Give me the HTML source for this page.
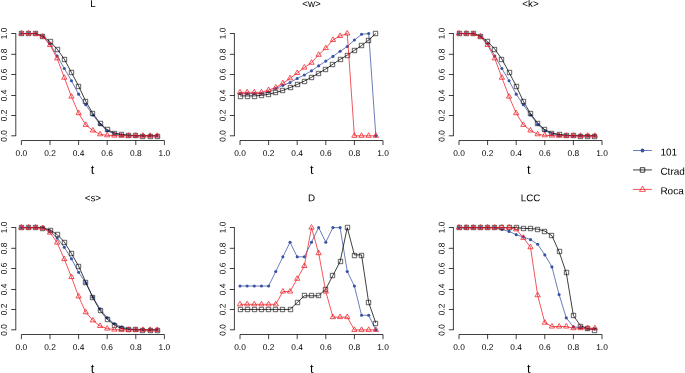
<!DOCTYPE html>
<html lang="en"><head><meta charset="utf-8"><title>Network measures vs threshold t</title>
<style>html,body{margin:0;padding:0;background:#fff}body{width:685px;height:373px;overflow:hidden}svg{display:block;will-change:transform;transform:translateZ(0)}text{font-family:"Liberation Sans",Arial,Helvetica,sans-serif;fill:#000}.tk{font-size:8.4px}.ti{font-size:9.8px}.xl{font-size:12.8px}.lg{font-size:10px}</style></head><body>
<svg width="685" height="373" viewBox="0 0 685 373">
<rect width="685" height="373" fill="#fff"/>
<g>
<text class="ti" transform="translate(92.9 7) rotate(0.05)" text-anchor="middle">L</text>
<path d="M15.8 136.1V33.2M15.8 135.8H11.2M15.8 115.5H11.2M15.8 95.5H11.2M15.8 74.5H11.2M15.8 54.3H11.2M15.8 33.5H11.2M21.4 140.5H164.4M21.4 140.5V145.1M50 140.5V145.1M78.6 140.5V145.1M107.2 140.5V145.1M135.8 140.5V145.1M164.4 140.5V145.1" fill="none" stroke="#000" stroke-width="0.75"/>
<text class="tk" transform="translate(21.4 155.9) rotate(0.05)" text-anchor="middle">0.0</text>
<text class="tk" transform="translate(6.85 135.8) rotate(-90.05)" text-anchor="middle">0.0</text>
<text class="tk" transform="translate(50 155.9) rotate(0.05)" text-anchor="middle">0.2</text>
<text class="tk" transform="translate(6.85 115.5) rotate(-90.05)" text-anchor="middle">0.2</text>
<text class="tk" transform="translate(78.6 155.9) rotate(0.05)" text-anchor="middle">0.4</text>
<text class="tk" transform="translate(6.85 95.5) rotate(-90.05)" text-anchor="middle">0.4</text>
<text class="tk" transform="translate(107.2 155.9) rotate(0.05)" text-anchor="middle">0.6</text>
<text class="tk" transform="translate(6.85 74.5) rotate(-90.05)" text-anchor="middle">0.6</text>
<text class="tk" transform="translate(135.8 155.9) rotate(0.05)" text-anchor="middle">0.8</text>
<text class="tk" transform="translate(6.85 54.3) rotate(-90.05)" text-anchor="middle">0.8</text>
<text class="tk" transform="translate(164.4 155.9) rotate(0.05)" text-anchor="middle">1.0</text>
<text class="tk" transform="translate(6.85 33.5) rotate(-90.05)" text-anchor="middle">1.0</text>
<text class="xl" transform="translate(92.55 174) rotate(0.05)" text-anchor="middle">t</text>
<polyline points="21.4,33.5 28.55,33.5 35.7,33.5 42.85,36.57 50,43.73 57.15,56.01 64.3,68.49 71.45,80.76 78.6,94.16 85.75,104.8 92.9,114.93 100.05,124.34 107.2,130.69 114.35,133.75 121.5,134.98 128.65,135.49 135.8,135.7 142.95,135.8 150.1,135.8 157.25,135.8" fill="none" stroke="#3953a4" stroke-width="0.75" stroke-linejoin="round"/>
<circle cx="21.4" cy="33.5" r="1.55" fill="#3953a4"/><circle cx="28.55" cy="33.5" r="1.55" fill="#3953a4"/><circle cx="35.7" cy="33.5" r="1.55" fill="#3953a4"/><circle cx="42.85" cy="36.57" r="1.55" fill="#3953a4"/><circle cx="50" cy="43.73" r="1.55" fill="#3953a4"/><circle cx="57.15" cy="56.01" r="1.55" fill="#3953a4"/><circle cx="64.3" cy="68.49" r="1.55" fill="#3953a4"/><circle cx="71.45" cy="80.76" r="1.55" fill="#3953a4"/><circle cx="78.6" cy="94.16" r="1.55" fill="#3953a4"/><circle cx="85.75" cy="104.8" r="1.55" fill="#3953a4"/><circle cx="92.9" cy="114.93" r="1.55" fill="#3953a4"/><circle cx="100.05" cy="124.34" r="1.55" fill="#3953a4"/><circle cx="107.2" cy="130.69" r="1.55" fill="#3953a4"/><circle cx="114.35" cy="133.75" r="1.55" fill="#3953a4"/><circle cx="121.5" cy="134.98" r="1.55" fill="#3953a4"/><circle cx="128.65" cy="135.49" r="1.55" fill="#3953a4"/><circle cx="135.8" cy="135.7" r="1.55" fill="#3953a4"/><circle cx="142.95" cy="135.8" r="1.55" fill="#3953a4"/><circle cx="150.1" cy="135.8" r="1.55" fill="#3953a4"/><circle cx="157.25" cy="135.8" r="1.55" fill="#3953a4"/>
<polyline points="21.4,33.5 28.55,33.5 35.7,33.5 42.85,36.16 50,41.58 57.15,49.05 64.3,59.18 71.45,72.48 78.6,85.98 85.75,101.32 92.9,113.6 100.05,123.22 107.2,129.66 114.35,132.94 121.5,134.47 128.65,135.19 135.8,135.6 142.95,135.8 150.1,135.8 157.25,135.8" fill="none" stroke="#000000" stroke-width="0.75" stroke-linejoin="round"/>
<rect x="19.3" y="31.3" width="4.4" height="4.4" fill="none" stroke="#000000" stroke-width="0.62" stroke-linejoin="round"/><rect x="26.3" y="31.3" width="4.4" height="4.4" fill="none" stroke="#000000" stroke-width="0.62" stroke-linejoin="round"/><rect x="33.3" y="31.3" width="4.4" height="4.4" fill="none" stroke="#000000" stroke-width="0.62" stroke-linejoin="round"/><rect x="40.3" y="34.3" width="4.4" height="4.4" fill="none" stroke="#000000" stroke-width="0.62" stroke-linejoin="round"/><rect x="48.3" y="39.3" width="4.4" height="4.4" fill="none" stroke="#000000" stroke-width="0.62" stroke-linejoin="round"/><rect x="55.3" y="47.3" width="4.4" height="4.4" fill="none" stroke="#000000" stroke-width="0.62" stroke-linejoin="round"/><rect x="62.3" y="57.3" width="4.4" height="4.4" fill="none" stroke="#000000" stroke-width="0.62" stroke-linejoin="round"/><rect x="69.3" y="70.3" width="4.4" height="4.4" fill="none" stroke="#000000" stroke-width="0.62" stroke-linejoin="round"/><rect x="76.3" y="84.3" width="4.4" height="4.4" fill="none" stroke="#000000" stroke-width="0.62" stroke-linejoin="round"/><rect x="83.3" y="99.3" width="4.4" height="4.4" fill="none" stroke="#000000" stroke-width="0.62" stroke-linejoin="round"/><rect x="90.3" y="111.3" width="4.4" height="4.4" fill="none" stroke="#000000" stroke-width="0.62" stroke-linejoin="round"/><rect x="98.3" y="121.3" width="4.4" height="4.4" fill="none" stroke="#000000" stroke-width="0.62" stroke-linejoin="round"/><rect x="105.3" y="127.3" width="4.4" height="4.4" fill="none" stroke="#000000" stroke-width="0.62" stroke-linejoin="round"/><rect x="112.3" y="131.3" width="4.4" height="4.4" fill="none" stroke="#000000" stroke-width="0.62" stroke-linejoin="round"/><rect x="119.3" y="132.3" width="4.4" height="4.4" fill="none" stroke="#000000" stroke-width="0.62" stroke-linejoin="round"/><rect x="126.3" y="133.3" width="4.4" height="4.4" fill="none" stroke="#000000" stroke-width="0.62" stroke-linejoin="round"/><rect x="133.3" y="133.3" width="4.4" height="4.4" fill="none" stroke="#000000" stroke-width="0.62" stroke-linejoin="round"/><rect x="140.3" y="134.3" width="4.4" height="4.4" fill="none" stroke="#000000" stroke-width="0.62" stroke-linejoin="round"/><rect x="148.3" y="134.3" width="4.4" height="4.4" fill="none" stroke="#000000" stroke-width="0.62" stroke-linejoin="round"/><rect x="155.3" y="134.3" width="4.4" height="4.4" fill="none" stroke="#000000" stroke-width="0.62" stroke-linejoin="round"/>
<polyline points="21.4,33.5 28.55,33.5 35.7,33.91 42.85,36.57 50,44.96 57.15,58.36 64.3,77.69 71.45,96.62 78.6,113.19 85.75,124.85 92.9,130.48 100.05,134.27 107.2,135.29 114.35,135.6 121.5,135.8 128.65,135.8 135.8,135.8 142.95,135.8 150.1,135.8 157.25,135.8" fill="none" stroke="#ed1c24" stroke-width="0.75" stroke-linejoin="round"/>
<path d="M21.4 30.45L24.04 35.03L18.76 35.03Z" fill="none" stroke="#ed1c24" stroke-width="0.75" stroke-linejoin="round"/><path d="M28.55 30.45L31.19 35.03L25.91 35.03Z" fill="none" stroke="#ed1c24" stroke-width="0.75" stroke-linejoin="round"/><path d="M35.7 30.86L38.34 35.43L33.06 35.43Z" fill="none" stroke="#ed1c24" stroke-width="0.75" stroke-linejoin="round"/><path d="M42.85 33.52L45.49 38.09L40.21 38.09Z" fill="none" stroke="#ed1c24" stroke-width="0.75" stroke-linejoin="round"/><path d="M50 41.91L52.64 46.48L47.36 46.48Z" fill="none" stroke="#ed1c24" stroke-width="0.75" stroke-linejoin="round"/><path d="M57.15 55.31L59.79 59.88L54.51 59.88Z" fill="none" stroke="#ed1c24" stroke-width="0.75" stroke-linejoin="round"/><path d="M64.3 74.64L66.94 79.22L61.66 79.22Z" fill="none" stroke="#ed1c24" stroke-width="0.75" stroke-linejoin="round"/><path d="M71.45 93.57L74.09 98.14L68.81 98.14Z" fill="none" stroke="#ed1c24" stroke-width="0.75" stroke-linejoin="round"/><path d="M78.6 110.14L81.24 114.72L75.96 114.72Z" fill="none" stroke="#ed1c24" stroke-width="0.75" stroke-linejoin="round"/><path d="M85.75 121.8L88.39 126.38L83.11 126.38Z" fill="none" stroke="#ed1c24" stroke-width="0.75" stroke-linejoin="round"/><path d="M92.9 127.43L95.54 132.01L90.26 132.01Z" fill="none" stroke="#ed1c24" stroke-width="0.75" stroke-linejoin="round"/><path d="M100.05 131.22L102.69 135.79L97.41 135.79Z" fill="none" stroke="#ed1c24" stroke-width="0.75" stroke-linejoin="round"/><path d="M107.2 132.24L109.84 136.81L104.56 136.81Z" fill="none" stroke="#ed1c24" stroke-width="0.75" stroke-linejoin="round"/><path d="M114.35 132.55L116.99 137.12L111.71 137.12Z" fill="none" stroke="#ed1c24" stroke-width="0.75" stroke-linejoin="round"/><path d="M121.5 132.75L124.14 137.33L118.86 137.33Z" fill="none" stroke="#ed1c24" stroke-width="0.75" stroke-linejoin="round"/><path d="M128.65 132.75L131.29 137.33L126.01 137.33Z" fill="none" stroke="#ed1c24" stroke-width="0.75" stroke-linejoin="round"/><path d="M135.8 132.75L138.44 137.33L133.16 137.33Z" fill="none" stroke="#ed1c24" stroke-width="0.75" stroke-linejoin="round"/><path d="M142.95 132.75L145.59 137.33L140.31 137.33Z" fill="none" stroke="#ed1c24" stroke-width="0.75" stroke-linejoin="round"/><path d="M150.1 132.75L152.74 137.33L147.46 137.33Z" fill="none" stroke="#ed1c24" stroke-width="0.75" stroke-linejoin="round"/><path d="M157.25 132.75L159.89 137.33L154.61 137.33Z" fill="none" stroke="#ed1c24" stroke-width="0.75" stroke-linejoin="round"/>
</g>
<g>
<text class="ti" transform="translate(311.5 7) rotate(0.05)" text-anchor="middle">&lt;w&gt;</text>
<path d="M234.4 136.1V33.2M234.4 135.8H229.8M234.4 115.5H229.8M234.4 95.5H229.8M234.4 74.5H229.8M234.4 54.3H229.8M234.4 33.5H229.8M240 140.5H383M240 140.5V145.1M268.6 140.5V145.1M297.2 140.5V145.1M325.8 140.5V145.1M354.4 140.5V145.1M383 140.5V145.1" fill="none" stroke="#000" stroke-width="0.75"/>
<text class="tk" transform="translate(240 155.9) rotate(0.05)" text-anchor="middle">0.0</text>
<text class="tk" transform="translate(225.45 135.8) rotate(-90.05)" text-anchor="middle">0.0</text>
<text class="tk" transform="translate(268.6 155.9) rotate(0.05)" text-anchor="middle">0.2</text>
<text class="tk" transform="translate(225.45 115.5) rotate(-90.05)" text-anchor="middle">0.2</text>
<text class="tk" transform="translate(297.2 155.9) rotate(0.05)" text-anchor="middle">0.4</text>
<text class="tk" transform="translate(225.45 95.5) rotate(-90.05)" text-anchor="middle">0.4</text>
<text class="tk" transform="translate(325.8 155.9) rotate(0.05)" text-anchor="middle">0.6</text>
<text class="tk" transform="translate(225.45 74.5) rotate(-90.05)" text-anchor="middle">0.6</text>
<text class="tk" transform="translate(354.4 155.9) rotate(0.05)" text-anchor="middle">0.8</text>
<text class="tk" transform="translate(225.45 54.3) rotate(-90.05)" text-anchor="middle">0.8</text>
<text class="tk" transform="translate(383 155.9) rotate(0.05)" text-anchor="middle">1.0</text>
<text class="tk" transform="translate(225.45 33.5) rotate(-90.05)" text-anchor="middle">1.0</text>
<text class="xl" transform="translate(311.7 174) rotate(0.05)" text-anchor="middle">t</text>
<polyline points="240,93.55 247.15,93.55 254.3,93.55 261.45,93.55 268.6,92.02 275.75,88.54 282.9,85.37 290.05,82.5 297.2,78.51 304.35,74.93 311.5,70.84 318.65,65.83 325.8,61.12 332.95,56.42 340.1,51.3 347.25,46.49 354.4,40.05 361.55,34.32 368.7,33.5 375.85,135.8" fill="none" stroke="#3953a4" stroke-width="0.75" stroke-linejoin="round"/>
<circle cx="240" cy="93.55" r="1.55" fill="#3953a4"/><circle cx="247.15" cy="93.55" r="1.55" fill="#3953a4"/><circle cx="254.3" cy="93.55" r="1.55" fill="#3953a4"/><circle cx="261.45" cy="93.55" r="1.55" fill="#3953a4"/><circle cx="268.6" cy="92.02" r="1.55" fill="#3953a4"/><circle cx="275.75" cy="88.54" r="1.55" fill="#3953a4"/><circle cx="282.9" cy="85.37" r="1.55" fill="#3953a4"/><circle cx="290.05" cy="82.5" r="1.55" fill="#3953a4"/><circle cx="297.2" cy="78.51" r="1.55" fill="#3953a4"/><circle cx="304.35" cy="74.93" r="1.55" fill="#3953a4"/><circle cx="311.5" cy="70.84" r="1.55" fill="#3953a4"/><circle cx="318.65" cy="65.83" r="1.55" fill="#3953a4"/><circle cx="325.8" cy="61.12" r="1.55" fill="#3953a4"/><circle cx="332.95" cy="56.42" r="1.55" fill="#3953a4"/><circle cx="340.1" cy="51.3" r="1.55" fill="#3953a4"/><circle cx="347.25" cy="46.49" r="1.55" fill="#3953a4"/><circle cx="354.4" cy="40.05" r="1.55" fill="#3953a4"/><circle cx="361.55" cy="34.32" r="1.55" fill="#3953a4"/><circle cx="368.7" cy="33.5" r="1.55" fill="#3953a4"/><circle cx="375.85" cy="135.8" r="1.55" fill="#3953a4"/>
<polyline points="240,95.9 247.15,95.9 254.3,95.9 261.45,95.39 268.6,94.27 275.75,92.53 282.9,90.38 290.05,87.62 297.2,84.55 304.35,81.07 311.5,77.28 318.65,73.19 325.8,69 332.95,64.19 340.1,59.38 347.25,55.19 354.4,50.38 361.55,45.57 368.7,39.94 375.85,33.5" fill="none" stroke="#000000" stroke-width="0.75" stroke-linejoin="round"/>
<rect x="238.3" y="94.3" width="4.4" height="4.4" fill="none" stroke="#000000" stroke-width="0.62" stroke-linejoin="round"/><rect x="245.3" y="94.3" width="4.4" height="4.4" fill="none" stroke="#000000" stroke-width="0.62" stroke-linejoin="round"/><rect x="252.3" y="94.3" width="4.4" height="4.4" fill="none" stroke="#000000" stroke-width="0.62" stroke-linejoin="round"/><rect x="259.3" y="93.3" width="4.4" height="4.4" fill="none" stroke="#000000" stroke-width="0.62" stroke-linejoin="round"/><rect x="266.3" y="92.3" width="4.4" height="4.4" fill="none" stroke="#000000" stroke-width="0.62" stroke-linejoin="round"/><rect x="273.3" y="90.3" width="4.4" height="4.4" fill="none" stroke="#000000" stroke-width="0.62" stroke-linejoin="round"/><rect x="280.3" y="88.3" width="4.4" height="4.4" fill="none" stroke="#000000" stroke-width="0.62" stroke-linejoin="round"/><rect x="288.3" y="85.3" width="4.4" height="4.4" fill="none" stroke="#000000" stroke-width="0.62" stroke-linejoin="round"/><rect x="295.3" y="82.3" width="4.4" height="4.4" fill="none" stroke="#000000" stroke-width="0.62" stroke-linejoin="round"/><rect x="302.3" y="79.3" width="4.4" height="4.4" fill="none" stroke="#000000" stroke-width="0.62" stroke-linejoin="round"/><rect x="309.3" y="75.3" width="4.4" height="4.4" fill="none" stroke="#000000" stroke-width="0.62" stroke-linejoin="round"/><rect x="316.3" y="71.3" width="4.4" height="4.4" fill="none" stroke="#000000" stroke-width="0.62" stroke-linejoin="round"/><rect x="323.3" y="67.3" width="4.4" height="4.4" fill="none" stroke="#000000" stroke-width="0.62" stroke-linejoin="round"/><rect x="330.3" y="62.3" width="4.4" height="4.4" fill="none" stroke="#000000" stroke-width="0.62" stroke-linejoin="round"/><rect x="338.3" y="57.3" width="4.4" height="4.4" fill="none" stroke="#000000" stroke-width="0.62" stroke-linejoin="round"/><rect x="345.3" y="53.3" width="4.4" height="4.4" fill="none" stroke="#000000" stroke-width="0.62" stroke-linejoin="round"/><rect x="352.3" y="48.3" width="4.4" height="4.4" fill="none" stroke="#000000" stroke-width="0.62" stroke-linejoin="round"/><rect x="359.3" y="43.3" width="4.4" height="4.4" fill="none" stroke="#000000" stroke-width="0.62" stroke-linejoin="round"/><rect x="366.3" y="38.3" width="4.4" height="4.4" fill="none" stroke="#000000" stroke-width="0.62" stroke-linejoin="round"/><rect x="373.3" y="31.3" width="4.4" height="4.4" fill="none" stroke="#000000" stroke-width="0.62" stroke-linejoin="round"/>
<polyline points="240,92.32 247.15,92.32 254.3,92.32 261.45,92.32 268.6,90.07 275.75,87.51 282.9,83.22 290.05,78.31 297.2,72.99 304.35,67.57 311.5,62.76 318.65,54.78 325.8,48.13 332.95,39.94 340.1,35.96 347.25,33.5 354.4,135.8 361.55,135.8 368.7,135.8 375.85,135.8" fill="none" stroke="#ed1c24" stroke-width="0.75" stroke-linejoin="round"/>
<path d="M240 89.27L242.64 93.85L237.36 93.85Z" fill="none" stroke="#ed1c24" stroke-width="0.75" stroke-linejoin="round"/><path d="M247.15 89.27L249.79 93.85L244.51 93.85Z" fill="none" stroke="#ed1c24" stroke-width="0.75" stroke-linejoin="round"/><path d="M254.3 89.27L256.94 93.85L251.66 93.85Z" fill="none" stroke="#ed1c24" stroke-width="0.75" stroke-linejoin="round"/><path d="M261.45 89.27L264.09 93.85L258.81 93.85Z" fill="none" stroke="#ed1c24" stroke-width="0.75" stroke-linejoin="round"/><path d="M268.6 87.02L271.24 91.6L265.96 91.6Z" fill="none" stroke="#ed1c24" stroke-width="0.75" stroke-linejoin="round"/><path d="M275.75 84.46L278.39 89.04L273.11 89.04Z" fill="none" stroke="#ed1c24" stroke-width="0.75" stroke-linejoin="round"/><path d="M282.9 80.17L285.54 84.74L280.26 84.74Z" fill="none" stroke="#ed1c24" stroke-width="0.75" stroke-linejoin="round"/><path d="M290.05 75.26L292.69 79.83L287.41 79.83Z" fill="none" stroke="#ed1c24" stroke-width="0.75" stroke-linejoin="round"/><path d="M297.2 69.94L299.84 74.51L294.56 74.51Z" fill="none" stroke="#ed1c24" stroke-width="0.75" stroke-linejoin="round"/><path d="M304.35 64.52L306.99 69.09L301.71 69.09Z" fill="none" stroke="#ed1c24" stroke-width="0.75" stroke-linejoin="round"/><path d="M311.5 59.71L314.14 64.28L308.86 64.28Z" fill="none" stroke="#ed1c24" stroke-width="0.75" stroke-linejoin="round"/><path d="M318.65 51.73L321.29 56.3L316.01 56.3Z" fill="none" stroke="#ed1c24" stroke-width="0.75" stroke-linejoin="round"/><path d="M325.8 45.08L328.44 49.65L323.16 49.65Z" fill="none" stroke="#ed1c24" stroke-width="0.75" stroke-linejoin="round"/><path d="M332.95 36.89L335.59 41.47L330.31 41.47Z" fill="none" stroke="#ed1c24" stroke-width="0.75" stroke-linejoin="round"/><path d="M340.1 32.91L342.74 37.48L337.46 37.48Z" fill="none" stroke="#ed1c24" stroke-width="0.75" stroke-linejoin="round"/><path d="M347.25 30.45L349.89 35.03L344.61 35.03Z" fill="none" stroke="#ed1c24" stroke-width="0.75" stroke-linejoin="round"/><path d="M354.4 132.75L357.04 137.33L351.76 137.33Z" fill="none" stroke="#ed1c24" stroke-width="0.75" stroke-linejoin="round"/><path d="M361.55 132.75L364.19 137.33L358.91 137.33Z" fill="none" stroke="#ed1c24" stroke-width="0.75" stroke-linejoin="round"/><path d="M368.7 132.75L371.34 137.33L366.06 137.33Z" fill="none" stroke="#ed1c24" stroke-width="0.75" stroke-linejoin="round"/><path d="M375.85 132.75L378.49 137.33L373.21 137.33Z" fill="none" stroke="#ed1c24" stroke-width="0.75" stroke-linejoin="round"/>
</g>
<g>
<text class="ti" transform="translate(530.5 7) rotate(0.05)" text-anchor="middle">&lt;k&gt;</text>
<path d="M453.4 136.1V33.2M453.4 135.8H448.8M453.4 115.5H448.8M453.4 95.5H448.8M453.4 74.5H448.8M453.4 54.3H448.8M453.4 33.5H448.8M459 140.5H602M459 140.5V145.1M487.6 140.5V145.1M516.2 140.5V145.1M544.8 140.5V145.1M573.4 140.5V145.1M602 140.5V145.1" fill="none" stroke="#000" stroke-width="0.75"/>
<text class="tk" transform="translate(459 155.9) rotate(0.05)" text-anchor="middle">0.0</text>
<text class="tk" transform="translate(444.45 135.8) rotate(-90.05)" text-anchor="middle">0.0</text>
<text class="tk" transform="translate(487.6 155.9) rotate(0.05)" text-anchor="middle">0.2</text>
<text class="tk" transform="translate(444.45 115.5) rotate(-90.05)" text-anchor="middle">0.2</text>
<text class="tk" transform="translate(516.2 155.9) rotate(0.05)" text-anchor="middle">0.4</text>
<text class="tk" transform="translate(444.45 95.5) rotate(-90.05)" text-anchor="middle">0.4</text>
<text class="tk" transform="translate(544.8 155.9) rotate(0.05)" text-anchor="middle">0.6</text>
<text class="tk" transform="translate(444.45 74.5) rotate(-90.05)" text-anchor="middle">0.6</text>
<text class="tk" transform="translate(573.4 155.9) rotate(0.05)" text-anchor="middle">0.8</text>
<text class="tk" transform="translate(444.45 54.3) rotate(-90.05)" text-anchor="middle">0.8</text>
<text class="tk" transform="translate(602 155.9) rotate(0.05)" text-anchor="middle">1.0</text>
<text class="tk" transform="translate(444.45 33.5) rotate(-90.05)" text-anchor="middle">1.0</text>
<text class="xl" transform="translate(528.75 174) rotate(0.05)" text-anchor="middle">t</text>
<polyline points="459,33.5 466.15,33.5 473.3,33.5 480.45,36.57 487.6,43.73 494.75,56.01 501.9,68.49 509.05,80.76 516.2,94.16 523.35,104.8 530.5,114.93 537.65,124.34 544.8,130.69 551.95,133.75 559.1,134.98 566.25,135.49 573.4,135.7 580.55,135.8 587.7,135.8 594.85,135.8" fill="none" stroke="#3953a4" stroke-width="0.75" stroke-linejoin="round"/>
<circle cx="459" cy="33.5" r="1.55" fill="#3953a4"/><circle cx="466.15" cy="33.5" r="1.55" fill="#3953a4"/><circle cx="473.3" cy="33.5" r="1.55" fill="#3953a4"/><circle cx="480.45" cy="36.57" r="1.55" fill="#3953a4"/><circle cx="487.6" cy="43.73" r="1.55" fill="#3953a4"/><circle cx="494.75" cy="56.01" r="1.55" fill="#3953a4"/><circle cx="501.9" cy="68.49" r="1.55" fill="#3953a4"/><circle cx="509.05" cy="80.76" r="1.55" fill="#3953a4"/><circle cx="516.2" cy="94.16" r="1.55" fill="#3953a4"/><circle cx="523.35" cy="104.8" r="1.55" fill="#3953a4"/><circle cx="530.5" cy="114.93" r="1.55" fill="#3953a4"/><circle cx="537.65" cy="124.34" r="1.55" fill="#3953a4"/><circle cx="544.8" cy="130.69" r="1.55" fill="#3953a4"/><circle cx="551.95" cy="133.75" r="1.55" fill="#3953a4"/><circle cx="559.1" cy="134.98" r="1.55" fill="#3953a4"/><circle cx="566.25" cy="135.49" r="1.55" fill="#3953a4"/><circle cx="573.4" cy="135.7" r="1.55" fill="#3953a4"/><circle cx="580.55" cy="135.8" r="1.55" fill="#3953a4"/><circle cx="587.7" cy="135.8" r="1.55" fill="#3953a4"/><circle cx="594.85" cy="135.8" r="1.55" fill="#3953a4"/>
<polyline points="459,33.5 466.15,33.5 473.3,33.5 480.45,36.16 487.6,41.58 494.75,49.05 501.9,59.18 509.05,72.48 516.2,85.98 523.35,101.32 530.5,113.6 537.65,123.22 544.8,129.66 551.95,132.94 559.1,134.47 566.25,135.19 573.4,135.6 580.55,135.8 587.7,135.8 594.85,135.8" fill="none" stroke="#000000" stroke-width="0.75" stroke-linejoin="round"/>
<rect x="457.3" y="31.3" width="4.4" height="4.4" fill="none" stroke="#000000" stroke-width="0.62" stroke-linejoin="round"/><rect x="464.3" y="31.3" width="4.4" height="4.4" fill="none" stroke="#000000" stroke-width="0.62" stroke-linejoin="round"/><rect x="471.3" y="31.3" width="4.4" height="4.4" fill="none" stroke="#000000" stroke-width="0.62" stroke-linejoin="round"/><rect x="478.3" y="34.3" width="4.4" height="4.4" fill="none" stroke="#000000" stroke-width="0.62" stroke-linejoin="round"/><rect x="485.3" y="39.3" width="4.4" height="4.4" fill="none" stroke="#000000" stroke-width="0.62" stroke-linejoin="round"/><rect x="492.3" y="47.3" width="4.4" height="4.4" fill="none" stroke="#000000" stroke-width="0.62" stroke-linejoin="round"/><rect x="499.3" y="57.3" width="4.4" height="4.4" fill="none" stroke="#000000" stroke-width="0.62" stroke-linejoin="round"/><rect x="507.3" y="70.3" width="4.4" height="4.4" fill="none" stroke="#000000" stroke-width="0.62" stroke-linejoin="round"/><rect x="514.3" y="84.3" width="4.4" height="4.4" fill="none" stroke="#000000" stroke-width="0.62" stroke-linejoin="round"/><rect x="521.3" y="99.3" width="4.4" height="4.4" fill="none" stroke="#000000" stroke-width="0.62" stroke-linejoin="round"/><rect x="528.3" y="111.3" width="4.4" height="4.4" fill="none" stroke="#000000" stroke-width="0.62" stroke-linejoin="round"/><rect x="535.3" y="121.3" width="4.4" height="4.4" fill="none" stroke="#000000" stroke-width="0.62" stroke-linejoin="round"/><rect x="542.3" y="127.3" width="4.4" height="4.4" fill="none" stroke="#000000" stroke-width="0.62" stroke-linejoin="round"/><rect x="549.3" y="131.3" width="4.4" height="4.4" fill="none" stroke="#000000" stroke-width="0.62" stroke-linejoin="round"/><rect x="557.3" y="132.3" width="4.4" height="4.4" fill="none" stroke="#000000" stroke-width="0.62" stroke-linejoin="round"/><rect x="564.3" y="133.3" width="4.4" height="4.4" fill="none" stroke="#000000" stroke-width="0.62" stroke-linejoin="round"/><rect x="571.3" y="133.3" width="4.4" height="4.4" fill="none" stroke="#000000" stroke-width="0.62" stroke-linejoin="round"/><rect x="578.3" y="134.3" width="4.4" height="4.4" fill="none" stroke="#000000" stroke-width="0.62" stroke-linejoin="round"/><rect x="585.3" y="134.3" width="4.4" height="4.4" fill="none" stroke="#000000" stroke-width="0.62" stroke-linejoin="round"/><rect x="592.3" y="134.3" width="4.4" height="4.4" fill="none" stroke="#000000" stroke-width="0.62" stroke-linejoin="round"/>
<polyline points="459,33.5 466.15,33.5 473.3,33.91 480.45,36.57 487.6,44.96 494.75,58.36 501.9,77.69 509.05,96.62 516.2,113.19 523.35,124.85 530.5,130.48 537.65,134.27 544.8,135.29 551.95,135.6 559.1,135.8 566.25,135.8 573.4,135.8 580.55,135.8 587.7,135.8 594.85,135.8" fill="none" stroke="#ed1c24" stroke-width="0.75" stroke-linejoin="round"/>
<path d="M459 30.45L461.64 35.03L456.36 35.03Z" fill="none" stroke="#ed1c24" stroke-width="0.75" stroke-linejoin="round"/><path d="M466.15 30.45L468.79 35.03L463.51 35.03Z" fill="none" stroke="#ed1c24" stroke-width="0.75" stroke-linejoin="round"/><path d="M473.3 30.86L475.94 35.43L470.66 35.43Z" fill="none" stroke="#ed1c24" stroke-width="0.75" stroke-linejoin="round"/><path d="M480.45 33.52L483.09 38.09L477.81 38.09Z" fill="none" stroke="#ed1c24" stroke-width="0.75" stroke-linejoin="round"/><path d="M487.6 41.91L490.24 46.48L484.96 46.48Z" fill="none" stroke="#ed1c24" stroke-width="0.75" stroke-linejoin="round"/><path d="M494.75 55.31L497.39 59.88L492.11 59.88Z" fill="none" stroke="#ed1c24" stroke-width="0.75" stroke-linejoin="round"/><path d="M501.9 74.64L504.54 79.22L499.26 79.22Z" fill="none" stroke="#ed1c24" stroke-width="0.75" stroke-linejoin="round"/><path d="M509.05 93.57L511.69 98.14L506.41 98.14Z" fill="none" stroke="#ed1c24" stroke-width="0.75" stroke-linejoin="round"/><path d="M516.2 110.14L518.84 114.72L513.56 114.72Z" fill="none" stroke="#ed1c24" stroke-width="0.75" stroke-linejoin="round"/><path d="M523.35 121.8L525.99 126.38L520.71 126.38Z" fill="none" stroke="#ed1c24" stroke-width="0.75" stroke-linejoin="round"/><path d="M530.5 127.43L533.14 132.01L527.86 132.01Z" fill="none" stroke="#ed1c24" stroke-width="0.75" stroke-linejoin="round"/><path d="M537.65 131.22L540.29 135.79L535.01 135.79Z" fill="none" stroke="#ed1c24" stroke-width="0.75" stroke-linejoin="round"/><path d="M544.8 132.24L547.44 136.81L542.16 136.81Z" fill="none" stroke="#ed1c24" stroke-width="0.75" stroke-linejoin="round"/><path d="M551.95 132.55L554.59 137.12L549.31 137.12Z" fill="none" stroke="#ed1c24" stroke-width="0.75" stroke-linejoin="round"/><path d="M559.1 132.75L561.74 137.33L556.46 137.33Z" fill="none" stroke="#ed1c24" stroke-width="0.75" stroke-linejoin="round"/><path d="M566.25 132.75L568.89 137.33L563.61 137.33Z" fill="none" stroke="#ed1c24" stroke-width="0.75" stroke-linejoin="round"/><path d="M573.4 132.75L576.04 137.33L570.76 137.33Z" fill="none" stroke="#ed1c24" stroke-width="0.75" stroke-linejoin="round"/><path d="M580.55 132.75L583.19 137.33L577.91 137.33Z" fill="none" stroke="#ed1c24" stroke-width="0.75" stroke-linejoin="round"/><path d="M587.7 132.75L590.34 137.33L585.06 137.33Z" fill="none" stroke="#ed1c24" stroke-width="0.75" stroke-linejoin="round"/><path d="M594.85 132.75L597.49 137.33L592.21 137.33Z" fill="none" stroke="#ed1c24" stroke-width="0.75" stroke-linejoin="round"/>
</g>
<g>
<text class="ti" transform="translate(92.9 201.3) rotate(0.05)" text-anchor="middle">&lt;s&gt;</text>
<path d="M15.8 330.1V227.2M15.8 329.8H11.2M15.8 309.5H11.2M15.8 289.5H11.2M15.8 268.5H11.2M15.8 248.3H11.2M15.8 227.5H11.2M21.4 334.5H164.4M21.4 334.5V339.1M50 334.5V339.1M78.6 334.5V339.1M107.2 334.5V339.1M135.8 334.5V339.1M164.4 334.5V339.1" fill="none" stroke="#000" stroke-width="0.75"/>
<text class="tk" transform="translate(21.4 349.9) rotate(0.05)" text-anchor="middle">0.0</text>
<text class="tk" transform="translate(6.85 329.8) rotate(-90.05)" text-anchor="middle">0.0</text>
<text class="tk" transform="translate(50 349.9) rotate(0.05)" text-anchor="middle">0.2</text>
<text class="tk" transform="translate(6.85 309.5) rotate(-90.05)" text-anchor="middle">0.2</text>
<text class="tk" transform="translate(78.6 349.9) rotate(0.05)" text-anchor="middle">0.4</text>
<text class="tk" transform="translate(6.85 289.5) rotate(-90.05)" text-anchor="middle">0.4</text>
<text class="tk" transform="translate(107.2 349.9) rotate(0.05)" text-anchor="middle">0.6</text>
<text class="tk" transform="translate(6.85 268.5) rotate(-90.05)" text-anchor="middle">0.6</text>
<text class="tk" transform="translate(135.8 349.9) rotate(0.05)" text-anchor="middle">0.8</text>
<text class="tk" transform="translate(6.85 248.3) rotate(-90.05)" text-anchor="middle">0.8</text>
<text class="tk" transform="translate(164.4 349.9) rotate(0.05)" text-anchor="middle">1.0</text>
<text class="tk" transform="translate(6.85 227.5) rotate(-90.05)" text-anchor="middle">1.0</text>
<text class="xl" transform="translate(92.55 373.1) rotate(0.05)" text-anchor="middle">t</text>
<polyline points="21.4,227.6 28.55,227.6 35.7,227.6 42.85,227.91 50,230.98 57.15,237.93 64.3,247.34 71.45,258.8 78.6,272.2 85.75,282.84 92.9,297.16 100.05,308.93 107.2,317.83 114.35,323.76 121.5,327.14 128.65,328.88 135.8,329.49 142.95,329.8 150.1,329.9 157.25,329.9" fill="none" stroke="#3953a4" stroke-width="0.75" stroke-linejoin="round"/>
<circle cx="21.4" cy="227.6" r="1.55" fill="#3953a4"/><circle cx="28.55" cy="227.6" r="1.55" fill="#3953a4"/><circle cx="35.7" cy="227.6" r="1.55" fill="#3953a4"/><circle cx="42.85" cy="227.91" r="1.55" fill="#3953a4"/><circle cx="50" cy="230.98" r="1.55" fill="#3953a4"/><circle cx="57.15" cy="237.93" r="1.55" fill="#3953a4"/><circle cx="64.3" cy="247.34" r="1.55" fill="#3953a4"/><circle cx="71.45" cy="258.8" r="1.55" fill="#3953a4"/><circle cx="78.6" cy="272.2" r="1.55" fill="#3953a4"/><circle cx="85.75" cy="282.84" r="1.55" fill="#3953a4"/><circle cx="92.9" cy="297.16" r="1.55" fill="#3953a4"/><circle cx="100.05" cy="308.93" r="1.55" fill="#3953a4"/><circle cx="107.2" cy="317.83" r="1.55" fill="#3953a4"/><circle cx="114.35" cy="323.76" r="1.55" fill="#3953a4"/><circle cx="121.5" cy="327.14" r="1.55" fill="#3953a4"/><circle cx="128.65" cy="328.88" r="1.55" fill="#3953a4"/><circle cx="135.8" cy="329.49" r="1.55" fill="#3953a4"/><circle cx="142.95" cy="329.8" r="1.55" fill="#3953a4"/><circle cx="150.1" cy="329.9" r="1.55" fill="#3953a4"/><circle cx="157.25" cy="329.9" r="1.55" fill="#3953a4"/>
<polyline points="21.4,227.6 28.55,227.6 35.7,227.6 42.85,227.8 50,229.95 57.15,234.56 64.3,241.92 71.45,253.58 78.6,265.96 85.75,282.13 92.9,297.68 100.05,310.57 107.2,319.16 114.35,325.09 121.5,328.47 128.65,329.39 135.8,329.7 142.95,329.9 150.1,329.9 157.25,329.9" fill="none" stroke="#000000" stroke-width="0.75" stroke-linejoin="round"/>
<rect x="19.3" y="225.3" width="4.4" height="4.4" fill="none" stroke="#000000" stroke-width="0.62" stroke-linejoin="round"/><rect x="26.3" y="225.3" width="4.4" height="4.4" fill="none" stroke="#000000" stroke-width="0.62" stroke-linejoin="round"/><rect x="33.3" y="225.3" width="4.4" height="4.4" fill="none" stroke="#000000" stroke-width="0.62" stroke-linejoin="round"/><rect x="40.3" y="226.3" width="4.4" height="4.4" fill="none" stroke="#000000" stroke-width="0.62" stroke-linejoin="round"/><rect x="48.3" y="228.3" width="4.4" height="4.4" fill="none" stroke="#000000" stroke-width="0.62" stroke-linejoin="round"/><rect x="55.3" y="232.3" width="4.4" height="4.4" fill="none" stroke="#000000" stroke-width="0.62" stroke-linejoin="round"/><rect x="62.3" y="240.3" width="4.4" height="4.4" fill="none" stroke="#000000" stroke-width="0.62" stroke-linejoin="round"/><rect x="69.3" y="251.3" width="4.4" height="4.4" fill="none" stroke="#000000" stroke-width="0.62" stroke-linejoin="round"/><rect x="76.3" y="264.3" width="4.4" height="4.4" fill="none" stroke="#000000" stroke-width="0.62" stroke-linejoin="round"/><rect x="83.3" y="280.3" width="4.4" height="4.4" fill="none" stroke="#000000" stroke-width="0.62" stroke-linejoin="round"/><rect x="90.3" y="295.3" width="4.4" height="4.4" fill="none" stroke="#000000" stroke-width="0.62" stroke-linejoin="round"/><rect x="98.3" y="308.3" width="4.4" height="4.4" fill="none" stroke="#000000" stroke-width="0.62" stroke-linejoin="round"/><rect x="105.3" y="317.3" width="4.4" height="4.4" fill="none" stroke="#000000" stroke-width="0.62" stroke-linejoin="round"/><rect x="112.3" y="323.3" width="4.4" height="4.4" fill="none" stroke="#000000" stroke-width="0.62" stroke-linejoin="round"/><rect x="119.3" y="326.3" width="4.4" height="4.4" fill="none" stroke="#000000" stroke-width="0.62" stroke-linejoin="round"/><rect x="126.3" y="327.3" width="4.4" height="4.4" fill="none" stroke="#000000" stroke-width="0.62" stroke-linejoin="round"/><rect x="133.3" y="327.3" width="4.4" height="4.4" fill="none" stroke="#000000" stroke-width="0.62" stroke-linejoin="round"/><rect x="140.3" y="328.3" width="4.4" height="4.4" fill="none" stroke="#000000" stroke-width="0.62" stroke-linejoin="round"/><rect x="148.3" y="328.3" width="4.4" height="4.4" fill="none" stroke="#000000" stroke-width="0.62" stroke-linejoin="round"/><rect x="155.3" y="328.3" width="4.4" height="4.4" fill="none" stroke="#000000" stroke-width="0.62" stroke-linejoin="round"/>
<polyline points="21.4,227.6 28.55,227.6 35.7,227.6 42.85,228.11 50,232.61 57.15,242.64 64.3,259.11 71.45,277.11 78.6,296.45 85.75,312.3 92.9,320.39 100.05,326.01 107.2,328.57 114.35,329.59 121.5,329.9 128.65,329.9 135.8,329.9 142.95,329.9 150.1,329.9 157.25,329.9" fill="none" stroke="#ed1c24" stroke-width="0.75" stroke-linejoin="round"/>
<path d="M21.4 224.55L24.04 229.12L18.76 229.12Z" fill="none" stroke="#ed1c24" stroke-width="0.75" stroke-linejoin="round"/><path d="M28.55 224.55L31.19 229.12L25.91 229.12Z" fill="none" stroke="#ed1c24" stroke-width="0.75" stroke-linejoin="round"/><path d="M35.7 224.55L38.34 229.12L33.06 229.12Z" fill="none" stroke="#ed1c24" stroke-width="0.75" stroke-linejoin="round"/><path d="M42.85 225.06L45.49 229.64L40.21 229.64Z" fill="none" stroke="#ed1c24" stroke-width="0.75" stroke-linejoin="round"/><path d="M50 229.56L52.64 234.14L47.36 234.14Z" fill="none" stroke="#ed1c24" stroke-width="0.75" stroke-linejoin="round"/><path d="M57.15 239.59L59.79 244.16L54.51 244.16Z" fill="none" stroke="#ed1c24" stroke-width="0.75" stroke-linejoin="round"/><path d="M64.3 256.06L66.94 260.63L61.66 260.63Z" fill="none" stroke="#ed1c24" stroke-width="0.75" stroke-linejoin="round"/><path d="M71.45 274.06L74.09 278.64L68.81 278.64Z" fill="none" stroke="#ed1c24" stroke-width="0.75" stroke-linejoin="round"/><path d="M78.6 293.4L81.24 297.97L75.96 297.97Z" fill="none" stroke="#ed1c24" stroke-width="0.75" stroke-linejoin="round"/><path d="M85.75 309.25L88.39 313.83L83.11 313.83Z" fill="none" stroke="#ed1c24" stroke-width="0.75" stroke-linejoin="round"/><path d="M92.9 317.34L95.54 321.91L90.26 321.91Z" fill="none" stroke="#ed1c24" stroke-width="0.75" stroke-linejoin="round"/><path d="M100.05 322.96L102.69 327.54L97.41 327.54Z" fill="none" stroke="#ed1c24" stroke-width="0.75" stroke-linejoin="round"/><path d="M107.2 325.52L109.84 330.1L104.56 330.1Z" fill="none" stroke="#ed1c24" stroke-width="0.75" stroke-linejoin="round"/><path d="M114.35 326.54L116.99 331.12L111.71 331.12Z" fill="none" stroke="#ed1c24" stroke-width="0.75" stroke-linejoin="round"/><path d="M121.5 326.85L124.14 331.42L118.86 331.42Z" fill="none" stroke="#ed1c24" stroke-width="0.75" stroke-linejoin="round"/><path d="M128.65 326.85L131.29 331.42L126.01 331.42Z" fill="none" stroke="#ed1c24" stroke-width="0.75" stroke-linejoin="round"/><path d="M135.8 326.85L138.44 331.42L133.16 331.42Z" fill="none" stroke="#ed1c24" stroke-width="0.75" stroke-linejoin="round"/><path d="M142.95 326.85L145.59 331.42L140.31 331.42Z" fill="none" stroke="#ed1c24" stroke-width="0.75" stroke-linejoin="round"/><path d="M150.1 326.85L152.74 331.42L147.46 331.42Z" fill="none" stroke="#ed1c24" stroke-width="0.75" stroke-linejoin="round"/><path d="M157.25 326.85L159.89 331.42L154.61 331.42Z" fill="none" stroke="#ed1c24" stroke-width="0.75" stroke-linejoin="round"/>
</g>
<g>
<text class="ti" transform="translate(311.5 201.3) rotate(0.05)" text-anchor="middle">D</text>
<path d="M234.4 330.1V227.2M234.4 329.8H229.8M234.4 309.5H229.8M234.4 289.5H229.8M234.4 268.5H229.8M234.4 248.3H229.8M234.4 227.5H229.8M240 334.5H383M240 334.5V339.1M268.6 334.5V339.1M297.2 334.5V339.1M325.8 334.5V339.1M354.4 334.5V339.1M383 334.5V339.1" fill="none" stroke="#000" stroke-width="0.75"/>
<text class="tk" transform="translate(240 349.9) rotate(0.05)" text-anchor="middle">0.0</text>
<text class="tk" transform="translate(225.45 329.8) rotate(-90.05)" text-anchor="middle">0.0</text>
<text class="tk" transform="translate(268.6 349.9) rotate(0.05)" text-anchor="middle">0.2</text>
<text class="tk" transform="translate(225.45 309.5) rotate(-90.05)" text-anchor="middle">0.2</text>
<text class="tk" transform="translate(297.2 349.9) rotate(0.05)" text-anchor="middle">0.4</text>
<text class="tk" transform="translate(225.45 289.5) rotate(-90.05)" text-anchor="middle">0.4</text>
<text class="tk" transform="translate(325.8 349.9) rotate(0.05)" text-anchor="middle">0.6</text>
<text class="tk" transform="translate(225.45 268.5) rotate(-90.05)" text-anchor="middle">0.6</text>
<text class="tk" transform="translate(354.4 349.9) rotate(0.05)" text-anchor="middle">0.8</text>
<text class="tk" transform="translate(225.45 248.3) rotate(-90.05)" text-anchor="middle">0.8</text>
<text class="tk" transform="translate(383 349.9) rotate(0.05)" text-anchor="middle">1.0</text>
<text class="tk" transform="translate(225.45 227.5) rotate(-90.05)" text-anchor="middle">1.0</text>
<text class="xl" transform="translate(311.7 373.1) rotate(0.05)" text-anchor="middle">t</text>
<polyline points="240,286.06 247.15,286.06 254.3,286.06 261.45,286.06 268.6,286.06 275.75,271.44 282.9,256.83 290.05,242.21 297.2,256.83 304.35,256.83 311.5,242.21 318.65,227.6 325.8,242.21 332.95,227.6 340.1,227.6 347.25,271.44 354.4,286.06 361.55,315.29 368.7,315.29 375.85,329.9" fill="none" stroke="#3953a4" stroke-width="0.75" stroke-linejoin="round"/>
<circle cx="240" cy="286.06" r="1.55" fill="#3953a4"/><circle cx="247.15" cy="286.06" r="1.55" fill="#3953a4"/><circle cx="254.3" cy="286.06" r="1.55" fill="#3953a4"/><circle cx="261.45" cy="286.06" r="1.55" fill="#3953a4"/><circle cx="268.6" cy="286.06" r="1.55" fill="#3953a4"/><circle cx="275.75" cy="271.44" r="1.55" fill="#3953a4"/><circle cx="282.9" cy="256.83" r="1.55" fill="#3953a4"/><circle cx="290.05" cy="242.21" r="1.55" fill="#3953a4"/><circle cx="297.2" cy="256.83" r="1.55" fill="#3953a4"/><circle cx="304.35" cy="256.83" r="1.55" fill="#3953a4"/><circle cx="311.5" cy="242.21" r="1.55" fill="#3953a4"/><circle cx="318.65" cy="227.6" r="1.55" fill="#3953a4"/><circle cx="325.8" cy="242.21" r="1.55" fill="#3953a4"/><circle cx="332.95" cy="227.6" r="1.55" fill="#3953a4"/><circle cx="340.1" cy="227.6" r="1.55" fill="#3953a4"/><circle cx="347.25" cy="271.44" r="1.55" fill="#3953a4"/><circle cx="354.4" cy="286.06" r="1.55" fill="#3953a4"/><circle cx="361.55" cy="315.29" r="1.55" fill="#3953a4"/><circle cx="368.7" cy="315.29" r="1.55" fill="#3953a4"/><circle cx="375.85" cy="329.9" r="1.55" fill="#3953a4"/>
<polyline points="240,309.44 247.15,309.44 254.3,309.44 261.45,309.44 268.6,309.44 275.75,309.44 282.9,309.44 290.05,309.44 297.2,302.62 304.35,295.8 311.5,295.8 318.65,295.8 325.8,288.98 332.95,275.34 340.1,261.7 347.25,227.6 354.4,254.88 361.55,254.88 368.7,302.62 375.85,323.08" fill="none" stroke="#000000" stroke-width="0.75" stroke-linejoin="round"/>
<rect x="238.3" y="307.3" width="4.4" height="4.4" fill="none" stroke="#000000" stroke-width="0.62" stroke-linejoin="round"/><rect x="245.3" y="307.3" width="4.4" height="4.4" fill="none" stroke="#000000" stroke-width="0.62" stroke-linejoin="round"/><rect x="252.3" y="307.3" width="4.4" height="4.4" fill="none" stroke="#000000" stroke-width="0.62" stroke-linejoin="round"/><rect x="259.3" y="307.3" width="4.4" height="4.4" fill="none" stroke="#000000" stroke-width="0.62" stroke-linejoin="round"/><rect x="266.3" y="307.3" width="4.4" height="4.4" fill="none" stroke="#000000" stroke-width="0.62" stroke-linejoin="round"/><rect x="273.3" y="307.3" width="4.4" height="4.4" fill="none" stroke="#000000" stroke-width="0.62" stroke-linejoin="round"/><rect x="280.3" y="307.3" width="4.4" height="4.4" fill="none" stroke="#000000" stroke-width="0.62" stroke-linejoin="round"/><rect x="288.3" y="307.3" width="4.4" height="4.4" fill="none" stroke="#000000" stroke-width="0.62" stroke-linejoin="round"/><rect x="295.3" y="300.3" width="4.4" height="4.4" fill="none" stroke="#000000" stroke-width="0.62" stroke-linejoin="round"/><rect x="302.3" y="293.3" width="4.4" height="4.4" fill="none" stroke="#000000" stroke-width="0.62" stroke-linejoin="round"/><rect x="309.3" y="293.3" width="4.4" height="4.4" fill="none" stroke="#000000" stroke-width="0.62" stroke-linejoin="round"/><rect x="316.3" y="293.3" width="4.4" height="4.4" fill="none" stroke="#000000" stroke-width="0.62" stroke-linejoin="round"/><rect x="323.3" y="287.3" width="4.4" height="4.4" fill="none" stroke="#000000" stroke-width="0.62" stroke-linejoin="round"/><rect x="330.3" y="273.3" width="4.4" height="4.4" fill="none" stroke="#000000" stroke-width="0.62" stroke-linejoin="round"/><rect x="338.3" y="259.3" width="4.4" height="4.4" fill="none" stroke="#000000" stroke-width="0.62" stroke-linejoin="round"/><rect x="345.3" y="225.3" width="4.4" height="4.4" fill="none" stroke="#000000" stroke-width="0.62" stroke-linejoin="round"/><rect x="352.3" y="253.3" width="4.4" height="4.4" fill="none" stroke="#000000" stroke-width="0.62" stroke-linejoin="round"/><rect x="359.3" y="253.3" width="4.4" height="4.4" fill="none" stroke="#000000" stroke-width="0.62" stroke-linejoin="round"/><rect x="366.3" y="300.3" width="4.4" height="4.4" fill="none" stroke="#000000" stroke-width="0.62" stroke-linejoin="round"/><rect x="373.3" y="321.3" width="4.4" height="4.4" fill="none" stroke="#000000" stroke-width="0.62" stroke-linejoin="round"/>
<polyline points="240,304.32 247.15,304.32 254.3,304.32 261.45,304.32 268.6,304.32 275.75,304.32 282.9,291.54 290.05,291.54 297.2,278.75 304.35,265.96 311.5,227.6 318.65,253.17 325.8,291.54 332.95,317.11 340.1,317.11 347.25,317.11 354.4,329.9 361.55,329.9 368.7,329.9 375.85,329.9" fill="none" stroke="#ed1c24" stroke-width="0.75" stroke-linejoin="round"/>
<path d="M240 301.27L242.64 305.85L237.36 305.85Z" fill="none" stroke="#ed1c24" stroke-width="0.75" stroke-linejoin="round"/><path d="M247.15 301.27L249.79 305.85L244.51 305.85Z" fill="none" stroke="#ed1c24" stroke-width="0.75" stroke-linejoin="round"/><path d="M254.3 301.27L256.94 305.85L251.66 305.85Z" fill="none" stroke="#ed1c24" stroke-width="0.75" stroke-linejoin="round"/><path d="M261.45 301.27L264.09 305.85L258.81 305.85Z" fill="none" stroke="#ed1c24" stroke-width="0.75" stroke-linejoin="round"/><path d="M268.6 301.27L271.24 305.85L265.96 305.85Z" fill="none" stroke="#ed1c24" stroke-width="0.75" stroke-linejoin="round"/><path d="M275.75 301.27L278.39 305.85L273.11 305.85Z" fill="none" stroke="#ed1c24" stroke-width="0.75" stroke-linejoin="round"/><path d="M282.9 288.49L285.54 293.06L280.26 293.06Z" fill="none" stroke="#ed1c24" stroke-width="0.75" stroke-linejoin="round"/><path d="M290.05 288.49L292.69 293.06L287.41 293.06Z" fill="none" stroke="#ed1c24" stroke-width="0.75" stroke-linejoin="round"/><path d="M297.2 275.7L299.84 280.27L294.56 280.27Z" fill="none" stroke="#ed1c24" stroke-width="0.75" stroke-linejoin="round"/><path d="M304.35 262.91L306.99 267.49L301.71 267.49Z" fill="none" stroke="#ed1c24" stroke-width="0.75" stroke-linejoin="round"/><path d="M311.5 224.55L314.14 229.12L308.86 229.12Z" fill="none" stroke="#ed1c24" stroke-width="0.75" stroke-linejoin="round"/><path d="M318.65 250.12L321.29 254.7L316.01 254.7Z" fill="none" stroke="#ed1c24" stroke-width="0.75" stroke-linejoin="round"/><path d="M325.8 288.49L328.44 293.06L323.16 293.06Z" fill="none" stroke="#ed1c24" stroke-width="0.75" stroke-linejoin="round"/><path d="M332.95 314.06L335.59 318.64L330.31 318.64Z" fill="none" stroke="#ed1c24" stroke-width="0.75" stroke-linejoin="round"/><path d="M340.1 314.06L342.74 318.64L337.46 318.64Z" fill="none" stroke="#ed1c24" stroke-width="0.75" stroke-linejoin="round"/><path d="M347.25 314.06L349.89 318.64L344.61 318.64Z" fill="none" stroke="#ed1c24" stroke-width="0.75" stroke-linejoin="round"/><path d="M354.4 326.85L357.04 331.42L351.76 331.42Z" fill="none" stroke="#ed1c24" stroke-width="0.75" stroke-linejoin="round"/><path d="M361.55 326.85L364.19 331.42L358.91 331.42Z" fill="none" stroke="#ed1c24" stroke-width="0.75" stroke-linejoin="round"/><path d="M368.7 326.85L371.34 331.42L366.06 331.42Z" fill="none" stroke="#ed1c24" stroke-width="0.75" stroke-linejoin="round"/><path d="M375.85 326.85L378.49 331.42L373.21 331.42Z" fill="none" stroke="#ed1c24" stroke-width="0.75" stroke-linejoin="round"/>
</g>
<g>
<text class="ti" transform="translate(530.5 201.3) rotate(0.05)" text-anchor="middle">LCC</text>
<path d="M453.4 330.1V227.2M453.4 329.8H448.8M453.4 309.5H448.8M453.4 289.5H448.8M453.4 268.5H448.8M453.4 248.3H448.8M453.4 227.5H448.8M459 334.5H602M459 334.5V339.1M487.6 334.5V339.1M516.2 334.5V339.1M544.8 334.5V339.1M573.4 334.5V339.1M602 334.5V339.1" fill="none" stroke="#000" stroke-width="0.75"/>
<text class="tk" transform="translate(459 349.9) rotate(0.05)" text-anchor="middle">0.0</text>
<text class="tk" transform="translate(444.45 329.8) rotate(-90.05)" text-anchor="middle">0.0</text>
<text class="tk" transform="translate(487.6 349.9) rotate(0.05)" text-anchor="middle">0.2</text>
<text class="tk" transform="translate(444.45 309.5) rotate(-90.05)" text-anchor="middle">0.2</text>
<text class="tk" transform="translate(516.2 349.9) rotate(0.05)" text-anchor="middle">0.4</text>
<text class="tk" transform="translate(444.45 289.5) rotate(-90.05)" text-anchor="middle">0.4</text>
<text class="tk" transform="translate(544.8 349.9) rotate(0.05)" text-anchor="middle">0.6</text>
<text class="tk" transform="translate(444.45 268.5) rotate(-90.05)" text-anchor="middle">0.6</text>
<text class="tk" transform="translate(573.4 349.9) rotate(0.05)" text-anchor="middle">0.8</text>
<text class="tk" transform="translate(444.45 248.3) rotate(-90.05)" text-anchor="middle">0.8</text>
<text class="tk" transform="translate(602 349.9) rotate(0.05)" text-anchor="middle">1.0</text>
<text class="tk" transform="translate(444.45 227.5) rotate(-90.05)" text-anchor="middle">1.0</text>
<text class="xl" transform="translate(528.75 373.1) rotate(0.05)" text-anchor="middle">t</text>
<polyline points="459,227.6 466.15,227.6 473.3,227.6 480.45,227.6 487.6,227.6 494.75,227.6 501.9,229.44 509.05,231.39 516.2,234.66 523.35,236.91 530.5,239.67 537.65,244.27 544.8,254.91 551.95,266.88 559.1,294.61 566.25,317.83 573.4,326.83 580.55,327.44 587.7,328.88 594.85,328.88" fill="none" stroke="#3953a4" stroke-width="0.75" stroke-linejoin="round"/>
<circle cx="459" cy="227.6" r="1.55" fill="#3953a4"/><circle cx="466.15" cy="227.6" r="1.55" fill="#3953a4"/><circle cx="473.3" cy="227.6" r="1.55" fill="#3953a4"/><circle cx="480.45" cy="227.6" r="1.55" fill="#3953a4"/><circle cx="487.6" cy="227.6" r="1.55" fill="#3953a4"/><circle cx="494.75" cy="227.6" r="1.55" fill="#3953a4"/><circle cx="501.9" cy="229.44" r="1.55" fill="#3953a4"/><circle cx="509.05" cy="231.39" r="1.55" fill="#3953a4"/><circle cx="516.2" cy="234.66" r="1.55" fill="#3953a4"/><circle cx="523.35" cy="236.91" r="1.55" fill="#3953a4"/><circle cx="530.5" cy="239.67" r="1.55" fill="#3953a4"/><circle cx="537.65" cy="244.27" r="1.55" fill="#3953a4"/><circle cx="544.8" cy="254.91" r="1.55" fill="#3953a4"/><circle cx="551.95" cy="266.88" r="1.55" fill="#3953a4"/><circle cx="559.1" cy="294.61" r="1.55" fill="#3953a4"/><circle cx="566.25" cy="317.83" r="1.55" fill="#3953a4"/><circle cx="573.4" cy="326.83" r="1.55" fill="#3953a4"/><circle cx="580.55" cy="327.44" r="1.55" fill="#3953a4"/><circle cx="587.7" cy="328.88" r="1.55" fill="#3953a4"/><circle cx="594.85" cy="328.88" r="1.55" fill="#3953a4"/>
<polyline points="459,227.6 466.15,227.6 473.3,227.6 480.45,227.6 487.6,227.6 494.75,227.6 501.9,227.6 509.05,227.6 516.2,227.6 523.35,228.42 530.5,228.62 537.65,229.13 544.8,231.08 551.95,235.68 559.1,251.74 566.25,272.71 573.4,315.58 580.55,325.81 587.7,328.47 594.85,329.9" fill="none" stroke="#000000" stroke-width="0.75" stroke-linejoin="round"/>
<rect x="457.3" y="225.3" width="4.4" height="4.4" fill="none" stroke="#000000" stroke-width="0.62" stroke-linejoin="round"/><rect x="464.3" y="225.3" width="4.4" height="4.4" fill="none" stroke="#000000" stroke-width="0.62" stroke-linejoin="round"/><rect x="471.3" y="225.3" width="4.4" height="4.4" fill="none" stroke="#000000" stroke-width="0.62" stroke-linejoin="round"/><rect x="478.3" y="225.3" width="4.4" height="4.4" fill="none" stroke="#000000" stroke-width="0.62" stroke-linejoin="round"/><rect x="485.3" y="225.3" width="4.4" height="4.4" fill="none" stroke="#000000" stroke-width="0.62" stroke-linejoin="round"/><rect x="492.3" y="225.3" width="4.4" height="4.4" fill="none" stroke="#000000" stroke-width="0.62" stroke-linejoin="round"/><rect x="499.3" y="225.3" width="4.4" height="4.4" fill="none" stroke="#000000" stroke-width="0.62" stroke-linejoin="round"/><rect x="507.3" y="225.3" width="4.4" height="4.4" fill="none" stroke="#000000" stroke-width="0.62" stroke-linejoin="round"/><rect x="514.3" y="225.3" width="4.4" height="4.4" fill="none" stroke="#000000" stroke-width="0.62" stroke-linejoin="round"/><rect x="521.3" y="226.3" width="4.4" height="4.4" fill="none" stroke="#000000" stroke-width="0.62" stroke-linejoin="round"/><rect x="528.3" y="226.3" width="4.4" height="4.4" fill="none" stroke="#000000" stroke-width="0.62" stroke-linejoin="round"/><rect x="535.3" y="227.3" width="4.4" height="4.4" fill="none" stroke="#000000" stroke-width="0.62" stroke-linejoin="round"/><rect x="542.3" y="229.3" width="4.4" height="4.4" fill="none" stroke="#000000" stroke-width="0.62" stroke-linejoin="round"/><rect x="549.3" y="233.3" width="4.4" height="4.4" fill="none" stroke="#000000" stroke-width="0.62" stroke-linejoin="round"/><rect x="557.3" y="249.3" width="4.4" height="4.4" fill="none" stroke="#000000" stroke-width="0.62" stroke-linejoin="round"/><rect x="564.3" y="270.3" width="4.4" height="4.4" fill="none" stroke="#000000" stroke-width="0.62" stroke-linejoin="round"/><rect x="571.3" y="313.3" width="4.4" height="4.4" fill="none" stroke="#000000" stroke-width="0.62" stroke-linejoin="round"/><rect x="578.3" y="324.3" width="4.4" height="4.4" fill="none" stroke="#000000" stroke-width="0.62" stroke-linejoin="round"/><rect x="585.3" y="326.3" width="4.4" height="4.4" fill="none" stroke="#000000" stroke-width="0.62" stroke-linejoin="round"/><rect x="592.3" y="328.3" width="4.4" height="4.4" fill="none" stroke="#000000" stroke-width="0.62" stroke-linejoin="round"/>
<polyline points="459,227.6 466.15,227.6 473.3,227.6 480.45,227.6 487.6,227.6 494.75,227.6 501.9,227.6 509.05,227.6 516.2,229.34 523.35,237.83 530.5,247.24 537.65,295.22 544.8,322.64 551.95,326.52 559.1,326.52 566.25,326.52 573.4,328.16 580.55,328.16 587.7,328.16 594.85,328.16" fill="none" stroke="#ed1c24" stroke-width="0.75" stroke-linejoin="round"/>
<path d="M459 224.55L461.64 229.12L456.36 229.12Z" fill="none" stroke="#ed1c24" stroke-width="0.75" stroke-linejoin="round"/><path d="M466.15 224.55L468.79 229.12L463.51 229.12Z" fill="none" stroke="#ed1c24" stroke-width="0.75" stroke-linejoin="round"/><path d="M473.3 224.55L475.94 229.12L470.66 229.12Z" fill="none" stroke="#ed1c24" stroke-width="0.75" stroke-linejoin="round"/><path d="M480.45 224.55L483.09 229.12L477.81 229.12Z" fill="none" stroke="#ed1c24" stroke-width="0.75" stroke-linejoin="round"/><path d="M487.6 224.55L490.24 229.12L484.96 229.12Z" fill="none" stroke="#ed1c24" stroke-width="0.75" stroke-linejoin="round"/><path d="M494.75 224.55L497.39 229.12L492.11 229.12Z" fill="none" stroke="#ed1c24" stroke-width="0.75" stroke-linejoin="round"/><path d="M501.9 224.55L504.54 229.12L499.26 229.12Z" fill="none" stroke="#ed1c24" stroke-width="0.75" stroke-linejoin="round"/><path d="M509.05 224.55L511.69 229.12L506.41 229.12Z" fill="none" stroke="#ed1c24" stroke-width="0.75" stroke-linejoin="round"/><path d="M516.2 226.29L518.84 230.86L513.56 230.86Z" fill="none" stroke="#ed1c24" stroke-width="0.75" stroke-linejoin="round"/><path d="M523.35 234.78L525.99 239.35L520.71 239.35Z" fill="none" stroke="#ed1c24" stroke-width="0.75" stroke-linejoin="round"/><path d="M530.5 244.19L533.14 248.77L527.86 248.77Z" fill="none" stroke="#ed1c24" stroke-width="0.75" stroke-linejoin="round"/><path d="M537.65 292.17L540.29 296.75L535.01 296.75Z" fill="none" stroke="#ed1c24" stroke-width="0.75" stroke-linejoin="round"/><path d="M544.8 319.59L547.44 324.16L542.16 324.16Z" fill="none" stroke="#ed1c24" stroke-width="0.75" stroke-linejoin="round"/><path d="M551.95 323.47L554.59 328.05L549.31 328.05Z" fill="none" stroke="#ed1c24" stroke-width="0.75" stroke-linejoin="round"/><path d="M559.1 323.47L561.74 328.05L556.46 328.05Z" fill="none" stroke="#ed1c24" stroke-width="0.75" stroke-linejoin="round"/><path d="M566.25 323.47L568.89 328.05L563.61 328.05Z" fill="none" stroke="#ed1c24" stroke-width="0.75" stroke-linejoin="round"/><path d="M573.4 325.11L576.04 329.69L570.76 329.69Z" fill="none" stroke="#ed1c24" stroke-width="0.75" stroke-linejoin="round"/><path d="M580.55 325.11L583.19 329.69L577.91 329.69Z" fill="none" stroke="#ed1c24" stroke-width="0.75" stroke-linejoin="round"/><path d="M587.7 325.11L590.34 329.69L585.06 329.69Z" fill="none" stroke="#ed1c24" stroke-width="0.75" stroke-linejoin="round"/><path d="M594.85 325.11L597.49 329.69L592.21 329.69Z" fill="none" stroke="#ed1c24" stroke-width="0.75" stroke-linejoin="round"/>
</g>
<g>
<path d="M633 150.5H651.9" stroke="#3953a4" stroke-width="0.75" fill="none"/>
<circle cx="642.5" cy="150.5" r="1.9" fill="#3953a4"/>
<text class="lg" transform="translate(660.4 155.4) rotate(0.05)">101</text>
<path d="M633 169.95H651.9" stroke="#000000" stroke-width="0.75" fill="none"/>
<rect x="640.25" y="167.7" width="4.5" height="4.5" fill="none" stroke="#000000" stroke-width="0.75" stroke-linejoin="round"/>
<text class="lg" transform="translate(660.4 174.85) rotate(0.05)">Ctrad</text>
<path d="M633 189.4H651.9" stroke="#ed1c24" stroke-width="0.75" fill="none"/>
<path d="M642.5 186.1L645.53 191.35L639.47 191.35Z" fill="none" stroke="#ed1c24" stroke-width="0.75" stroke-linejoin="round"/>
<text class="lg" transform="translate(660.4 194.3) rotate(0.05)">Roca</text>
</g>
</svg></body></html>
